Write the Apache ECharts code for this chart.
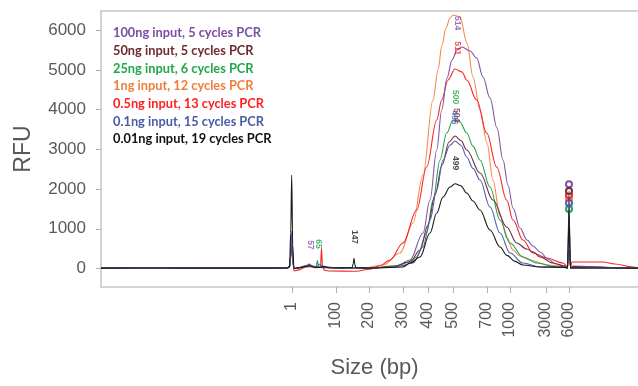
<!DOCTYPE html>
<html>
<head>
<meta charset="utf-8">
<script src="https://cdn.jsdelivr.net/npm/echarts@6/dist/echarts.min.js"></script>
<style>html,body{margin:0;padding:0;background:#fff}#c{width:638px;height:386px}</style>
</head>
<body>
<div id="c"></div>
<script>
// x is migration position (axis units), size labels placed at their positions
const tickPos = [191, 235, 268, 302, 327, 352, 386, 409, 445, 468];
const tickLabels = ['1', '100', '200', '300', '400', '500', '700', '1000', '3000', '6000'];
const yTicks = [0, 1000, 2000, 3000, 4000, 5000, 6000];

const seriesNames = [
  '100ng input, 5 cycles PCR',
  '50ng input, 5 cycles PCR',
  '25ng input, 6 cycles PCR',
  '1ng input, 12 cycles PCR',
  '0.5ng input, 13 cycles PCR',
  '0.1ng input, 15 cycles PCR',
  '0.01ng input, 19 cycles PCR'
];

const purple = [[0,10],[60,12],[120,10],[186,12],[188.6,40],[189.7,280],[190.7,750],[191.7,200],[193,0],[197,15],[205,70],[208,110],[212,60],[218,30],[240,15],[270,12],[294,38],[309,214],[322,893],[329,1723],[335.7,2981],[340.7,3988],[346,4793],[351,5246],[356,5497],[361,5573],[369,5472],[375.7,5296],[382,4818],[389,4290],[396,3535],[402,2730],[407,2101],[412,1522],[419,1019],[426,717],[432,566],[439,415],[447,239],[455,113],[464,40],[466.5,20],[467.2,700],[468,2120],[468.8,700],[469.5,20],[472,60],[490,50],[515,20],[537,10]];
const maroon = [[0,10],[60,12],[120,10],[186,12],[188.6,40],[189.7,300],[190.7,800],[191.7,220],[193,0],[197,15],[205,60],[209,80],[214,40],[220,30],[240,15],[270,12],[294,63],[309,164],[319,465],[327,1094],[334,1849],[341,2604],[348,3183],[354,3333],[360,3220],[365.7,2981],[379,2403],[392,1723],[405.7,1044],[415.7,642],[425.7,491],[432,420],[439,289],[452,138],[464,63],[466.5,20],[467.2,600],[468,1950],[468.8,600],[469.5,20],[472,50],[490,40],[510,20],[537,10]];
const green = [[0,10],[60,10],[120,12],[186,10],[188.6,40],[189.7,330],[190.7,870],[191.7,240],[193,0],[197,15],[205,50],[210,60],[215,30],[216.5,200],[217.5,40],[222,30],[240,15],[270,12],[294,63],[307,164],[315.7,289],[325.7,893],[332,1723],[339,2730],[345.7,3409],[352,3736],[359,3686],[365.7,3409],[372,3080],[379,2730],[389,2051],[399,1220],[409,642],[422,289],[436,138],[456,38],[464,30],[466.5,10],[467.2,500],[468,1500],[468.8,500],[469.5,10],[472,15],[500,12],[537,10]];
const orange = [[0,10],[60,12],[120,10],[186,10],[188.6,30],[189.7,240],[190.7,650],[191.7,180],[193,0],[197,15],[205,50],[212,40],[220,25],[240,15],[265,20],[282,88],[299,390],[312,1145],[322,2352],[332,4239],[337,4994],[341,5623],[345,6051],[349,6303],[352,6378],[356,6353],[359,6328],[366,5674],[372,4818],[379,3988],[386,3158],[392,2227],[399,1321],[406,767],[412,465],[419,315],[429,214],[446,88],[459,63],[465,30],[466.5,10],[467.2,550],[468,1750],[468.8,550],[469.5,10],[472,20],[500,12],[537,10]];
const red = [[0,10],[60,12],[120,10],[186,10],[188.6,40],[189.7,360],[190.7,950],[191.7,260],[193,-60],[197,-40],[205,40],[210,50],[215,20],[219.5,30],[220.5,515],[221.5,30],[224,-50],[229,-63],[255,-70],[268,-20],[279,70],[289,214],[302,642],[315.7,1472],[325.7,2554],[335.7,3736],[340.7,4239],[347,4743],[354,5019],[361,4944],[365.7,4743],[375.7,4239],[385.7,3409],[395.7,2554],[405.7,1723],[412,1220],[422,717],[432,390],[445.7,264],[462,138],[466,60],[466.8,20],[467.4,600],[468,1850],[468.8,600],[469.4,30],[471,164],[502,164],[514,113],[532,38],[537,20]];
const blue = [[0,10],[60,10],[120,12],[186,10],[188.6,40],[189.7,350],[190.7,900],[191.7,250],[193,0],[197,15],[205,70],[208,90],[212,50],[216,40],[219,110],[221,60],[225,40],[240,15],[270,12],[289,25],[299,63],[312,138],[322,541],[329,1220],[335.7,1975],[342,2730],[349,3107],[354,3208],[360,3100],[365.7,2805],[372,2520],[379,2227],[389,1547],[399,893],[409,390],[422,138],[439,38],[464,30],[466.5,10],[467.2,550],[468,1650],[468.8,550],[469.5,10],[472,20],[500,15],[537,10]];
const black = [[0,10],[60,12],[120,9],[186,12],[188.6,60],[189.7,900],[190.7,2350],[191.7,600],[193,0],[197,15],[205,50],[208,70],[212,40],[218,25],[223,55],[228,20],[240,15],[251,20],[252.2,120],[253,260],[253.8,100],[255,20],[270,10],[289,25],[302,40],[309,138],[319,290],[329,893],[335.7,1396],[342,1799],[349,2050],[354,2134],[360,2080],[365.7,1900],[372,1700],[379,1472],[389,969],[399,541],[406,330],[414,180],[422,88],[439,38],[464,30],[466.5,10],[467.2,500],[468,1450],[468.8,500],[469.5,10],[472,15],[500,12],[537,10]];

// peak-call annotations: [series index, position, RFU, text]
const annotations = [
  [0, 356, 6177, '514'],
  [4, 356, 5548, '511'],
  [2, 354, 4315, '500'],
  [1, 355.6, 3862, '504'],
  [5, 353.2, 3800, '496'],
  [6, 354, 2654, '499'],
  [6, 253, 793, '147'],
  [0, 209, 591, '57'],
  [2, 217, 616, '65']
];
const upperMarkerPos = [468, 468, 468, 468, 468, 468, null];

const colors = ['#7f53a6', '#74303a', '#22a34c', '#f5894a', '#f62424', '#4d5fae', '#1a1a1a'];
const textColors = ['#7b4ea3', '#6e2a2e', '#1ea84a', '#f07e3b', '#ff1f1f', '#4a5ba6', '#111111'];
const dataSets = [purple, maroon, green, orange, red, blue, black];
const drawOrder = [3, 4, 0, 2, 1, 5, 6];

const series = drawOrder.map(i => {
  const d = dataSets[i];
  const top = d.reduce((m, p) => (p[0] === 468 ? p[1] : m), null);
  const s = {
    name: seriesNames[i],
    type: 'line',
    data: d,
    showSymbol: false,
    smooth: 0.35,
    smoothMonotone: 'x',
    lineStyle: { color: colors[i], width: 1.1 },
    itemStyle: { color: colors[i] },
    z: 2 + drawOrder.indexOf(i),
    silent: true
  };
  if (upperMarkerPos[i] !== null) {
    s.markPoint = {
      symbol: 'emptyCircle', symbolSize: 6, silent: true,
      itemStyle: { color: colors[i], borderColor: colors[i], borderWidth: 1.2 },
      label: { show: false },
      data: [{ coord: [upperMarkerPos[i], top] }]
    };
  }
  return s;
});

series.push({
  name: 'labels',
  type: 'scatter',
  symbolSize: 0,
  silent: true,
  z: 20,
  data: annotations.map(a => ({
    value: [a[1], a[2], a[3]],
    label: { color: colors[a[0]] }
  })),
  label: {
    show: true, position: 'inside', rotate: -90,
    fontSize: 8.5, fontFamily: 'Liberation Sans', fontWeight: 'bold',
    formatter: p => p.value[2]
  }
});

const axisGray = '#c6c6c6';
const labelGray = '#595959';
const axisFont = 'Liberation Sans';

const option = {
  animation: false,
  backgroundColor: '#ffffff',
  grid: { left: 101, right: 0, top: 11, bottom: 99, containLabel: false },
  legend: {
    orient: 'vertical', left: 103, top: 21, itemGap: 3.7,
    icon: 'none', itemWidth: 0, itemHeight: 14, selectedMode: false,
    textStyle: { fontFamily: 'Lato', fontWeight: 'bold', fontSize: 12.8, lineHeight: 14 },
    data: seriesNames.map((n, i) => ({ name: n, textStyle: { color: textColors[i] } }))
  },
  xAxis: [{
    type: 'value', min: 0, max: 537,
    axisLine: { show: true, onZero: false, lineStyle: { color: axisGray, width: 1.5 } },
    axisTick: { show: true, length: 6, customValues: tickPos, lineStyle: { color: '#b0b0b0' } },
    axisLabel: {
      customValues: tickPos, rotate: 90, margin: 15, fontSize: 16,
      fontFamily: axisFont, color: labelGray,
      formatter: v => tickLabels[tickPos.indexOf(v)]
    },
    splitLine: { show: false },
    name: 'Size (bp)', nameLocation: 'middle', nameGap: 70,
    nameTextStyle: { fontSize: 22, fontFamily: axisFont, color: labelGray, padding: [0, 0, 0, 10] }
  }, {
    type: 'value', min: 0, max: 537, position: 'top',
    axisLine: { show: true, onZero: false, lineStyle: { color: axisGray, width: 1.5 } },
    axisTick: { show: false }, axisLabel: { show: false }, splitLine: { show: false }
  }],
  yAxis: {
    type: 'value', min: -465, max: 6480,
    axisLine: { show: true, onZero: false, lineStyle: { color: axisGray, width: 1.5 } },
    axisTick: { show: true, length: 5, customValues: yTicks, lineStyle: { color: '#b0b0b0' } },
    axisLabel: {
      customValues: yTicks, margin: 15, fontSize: 17, fontFamily: axisFont, color: labelGray,
      formatter: v => String(v)
    },
    splitLine: { show: false },
    name: 'RFU', nameLocation: 'middle', nameGap: 66,
    nameTextStyle: { fontSize: 23, fontFamily: axisFont, color: labelGray, padding: [0, 0, 0, 0] }
  },
  series: series
};

const chart = echarts.init(document.getElementById('c'), null, { renderer: 'canvas' });
chart.setOption(option);
</script>
</body>
</html>
